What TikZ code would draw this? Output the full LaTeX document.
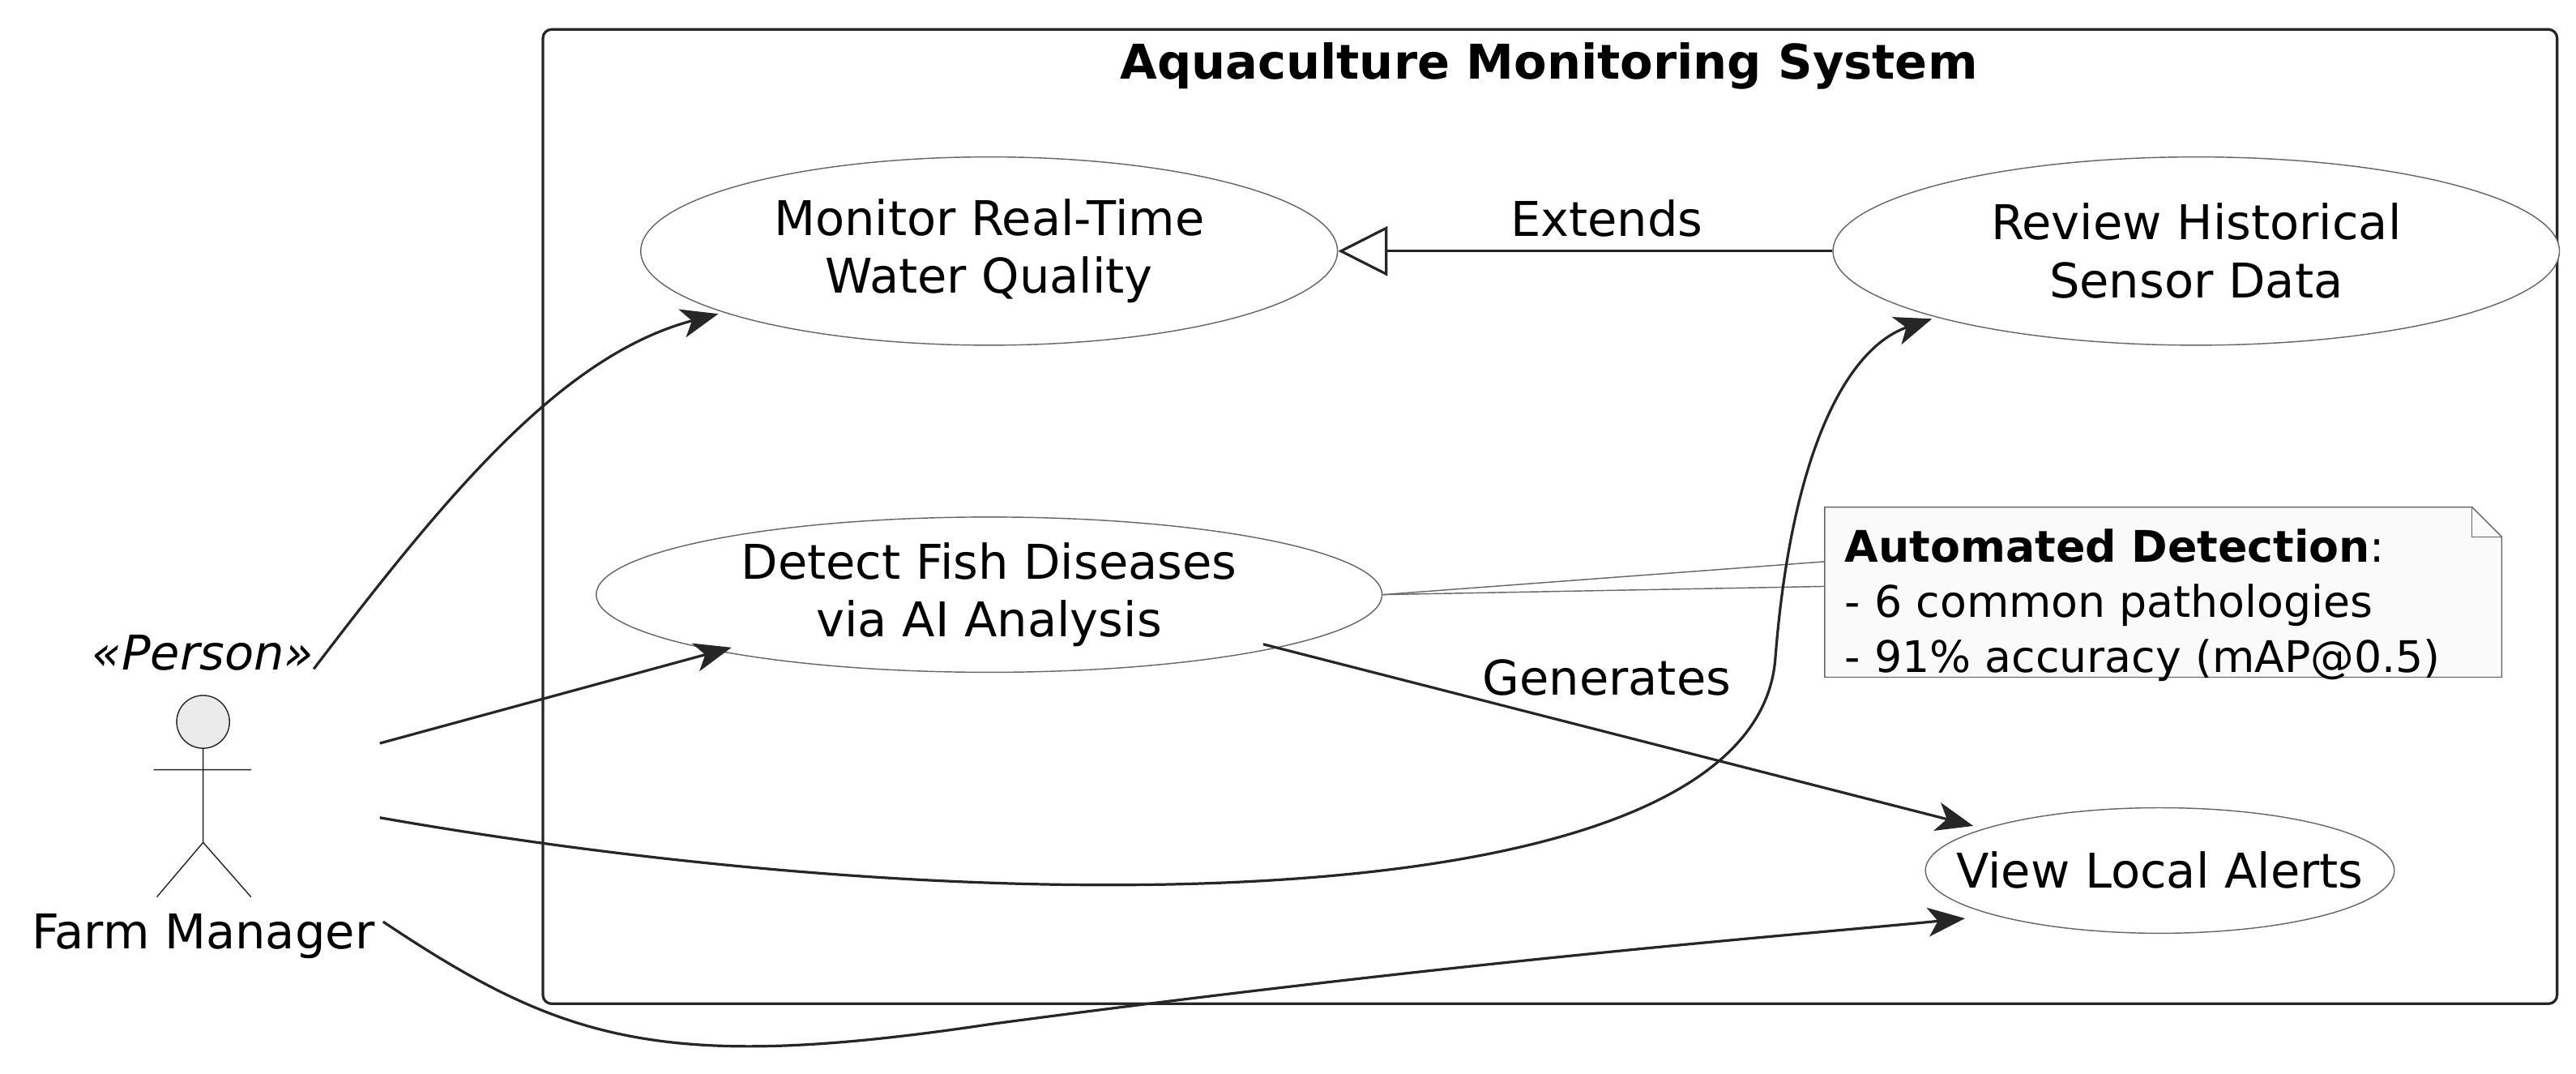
\documentclass[tikz,border=0pt]{standalone}
\usepackage{fontspec}
\setmainfont{DejaVu Sans}
\usetikzlibrary{arrows.meta,shapes.geometric}
\begin{document}
\begin{tikzpicture}[x=0.02cm,y=-0.02cm,
  uc/.style={draw=black!60,ellipse,fill=white,align=center,inner sep=0pt,font=\fontsize{16.5}{20}\selectfont},
  lbl/.style={font=\fontsize{16.5}{20}\selectfont},
  arr/.style={draw=black!85,line width=0.9pt,-{Stealth[length=0.45cm,width=0.35cm,inset=0.12cm]}}]
\useasboundingbox (0,0) rectangle (1560,650);
\node[draw=black!85,line width=0.9pt,rounded corners=3pt,minimum width=24.4cm,minimum height=11.8cm,anchor=north west] (sys) at (328,17) {};
\node[font=\bfseries\fontsize{16.5}{20}\selectfont] (title) at (938,40) {Aquaculture Monitoring System};
\node[uc,minimum width=8.44cm,minimum height=2.28cm] (mon) at (599,152) {Monitor Real-Time\\Water Quality};
\node[uc,minimum width=8.8cm,minimum height=2.28cm] (rev) at (1330,152) {Review Historical\\Sensor Data};
\node[uc,minimum width=9.52cm,minimum height=1.88cm] (det) at (599,360) {Detect Fish Diseases\\via AI Analysis};
\node[uc,minimum width=5.68cm,minimum height=1.52cm,inner xsep=-22pt] (view) at (1308,527) {View Local Alerts};
% note
\draw[black!60,fill=black!2] (1105,307) -- (1497,307) -- (1515,325) -- (1515,410) -- (1105,410) -- cycle;
\draw[black!60] (1497,307) -- (1497,325) -- (1515,325);
\node[align=left,anchor=north west,inner sep=0pt,font=\fontsize{15}{19}\selectfont] (note) at (1117,320) {\textbf{Automated Detection}:\\- 6 common pathologies\\- 91\% accuracy (mAP@0.5)};
\coordinate (n1) at (1105,340); \coordinate (n2) at (1105,355);
\draw[black!60] (det.east) -- (n1); \draw[black!60] (det.east) -- (n2);
% actor
\draw[black!85,fill=black!8] (123,437) circle (16);
\coordinate (neck) at (123,453); \coordinate (hip) at (123,510);
\draw[black!85] (neck) -- (hip) (93,466) -- (152,466) (95,543) -- (hip) -- (152,543);
\node[lbl,font=\itshape\fontsize{16.5}{20}\selectfont] (st) at (123,395) {«Person»};
\node[lbl] (fm) at (123,567) {Farm Manager};
\coordinate (a1) at (190,405); \coordinate (a2) at (230,450);
\coordinate (a3) at (230,495); \coordinate (a4) at (232,558);
\draw[arr] (a1) .. controls (270,300) and (340,215) .. (435,190);
\draw[arr] (a2) -- (443,392);
\draw[arr] (a3) .. controls (600,560) and (1060,560) .. (1075,400) .. controls (1085,270) and (1120,210) .. (1170,193);
\draw[arr] (a4) .. controls (340,630) and (400,650) .. (600,620) .. controls (900,580) and (1100,565) .. (1190,556);
\draw[arr] (765,390) -- (1195,500);
\node[lbl] at (973,410) {Generates};
\draw[draw=black!85,line width=0.9pt,-{Triangle[open,length=0.6cm,width=0.6cm]}] (rev.west) -- (mon.east);
\node[lbl] at (973,132) {Extends};
\end{tikzpicture}
\end{document}
